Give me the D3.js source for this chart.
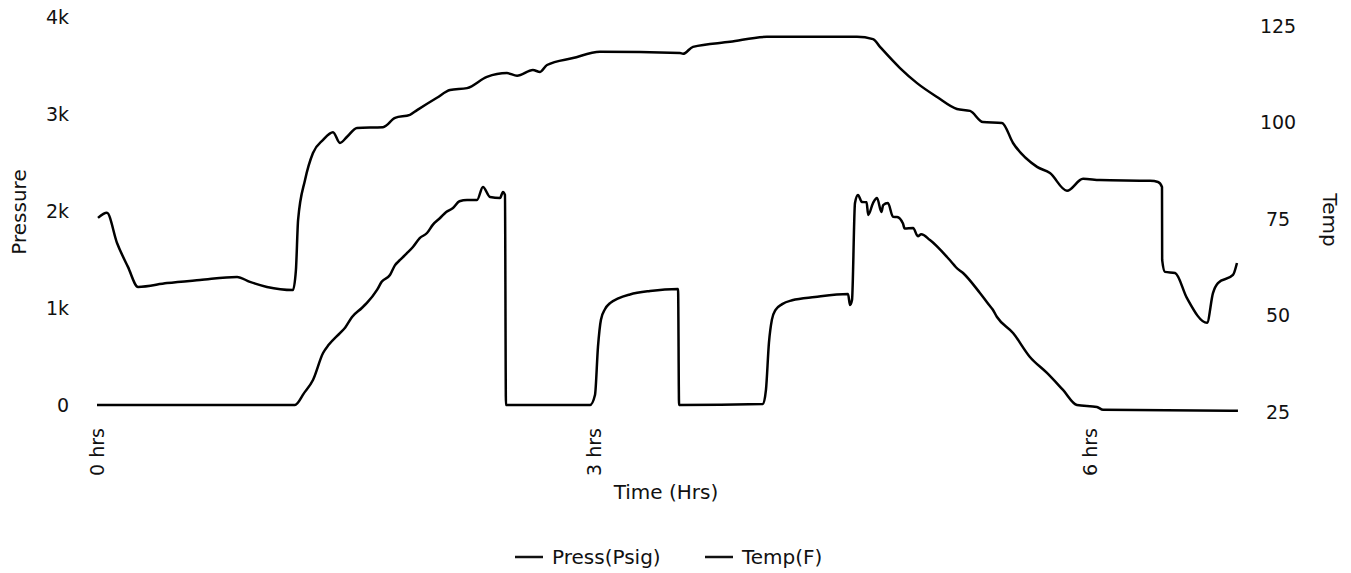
<!DOCTYPE html>
<html>
<head>
<meta charset="utf-8">
<script src="https://cdn.jsdelivr.net/npm/d3@7/dist/d3.min.js"></script>
<style>
  html, body { margin: 0; padding: 0; background: #fff; }
  svg { display: block; font-family: "DejaVu Sans", sans-serif; }
</style>
</head>
<body>
<svg id="chart" width="1351" height="573"></svg>
<script>
// ---- Data ----
const pressHours = [0, 1.196, 1.25, 1.305, 1.366, 1.40, 1.468, 1.50, 1.541, 1.60, 1.631, 1.692, 1.72, 1.770, 1.80, 1.831, 1.87, 1.909, 1.95, 1.994, 2.03, 2.073, 2.11, 2.151, 2.19, 2.236, 2.296, 2.332, 2.375, 2.435, 2.453, 2.465, 2.471, 2.979, 3.009, 3.027, 3.045, 3.07, 3.10, 3.15, 3.22, 3.341, 3.511, 3.517, 4.024, 4.042, 4.060, 4.078, 4.10, 4.14, 4.20, 4.338, 4.538, 4.550, 4.562, 4.580, 4.598, 4.622, 4.650, 4.66, 4.689, 4.713, 4.74, 4.75, 4.779, 4.81, 4.834, 4.87, 4.88, 4.931, 4.96, 4.98, 5.033, 5.136, 5.18, 5.19, 5.233, 5.335, 5.40, 5.41, 5.438, 5.535, 5.637, 5.740, 5.837, 5.921, 6.042, 6.079, 6.894];
const pressValues = [0, 0, 120, 258, 536, 620, 742, 800, 907, 1000, 1052, 1186, 1270, 1340, 1440, 1495, 1560, 1629, 1720, 1773, 1860, 1928, 1990, 2031, 2100, 2113, 2113, 2248, 2144, 2134, 2196, 2165, 0, 0, 103, 600, 880, 990, 1050, 1100, 1140, 1175, 1196, 0, 10, 155, 640, 880, 980, 1040, 1080, 1113, 1144, 1031, 1082, 2082, 2165, 2093, 2090, 1960, 2082, 2134, 1990, 2060, 2082, 1940, 1938, 1870, 1820, 1825, 1740, 1760, 1701, 1526, 1440, 1420, 1361, 1155, 1010, 990, 907, 742, 495, 330, 155, 0, -20, -50, -60];

const tempHours = [0.006, 0.060, 0.121, 0.187, 0.248, 0.423, 0.622, 0.846, 0.924, 1.027, 1.184, 1.202, 1.215, 1.257, 1.305, 1.366, 1.426, 1.468, 1.511, 1.571, 1.728, 1.801, 1.891, 1.934, 2.054, 2.133, 2.236, 2.356, 2.477, 2.538, 2.634, 2.677, 2.719, 2.876, 3.039, 3.523, 3.541, 3.601, 3.825, 4.048, 4.592, 4.689, 4.731, 4.852, 4.955, 5.076, 5.196, 5.275, 5.353, 5.468, 5.535, 5.680, 5.758, 5.861, 5.958, 6.060, 6.363, 6.411, 6.435, 6.436, 6.453, 6.514, 6.586, 6.707, 6.743, 6.773, 6.864, 6.888];
const tempValues = [75.3, 76.6, 68.8, 62.6, 57.4, 58.4, 59.2, 60.0, 58.7, 57.4, 56.6, 61.8, 74.7, 85.1, 92.1, 95.5, 97.5, 94.7, 96.3, 98.6, 98.8, 101.2, 102.0, 103.2, 106.4, 108.4, 108.9, 111.8, 112.8, 112.1, 113.6, 113.1, 114.9, 116.7, 118.3, 118.0, 117.8, 119.6, 120.9, 122.2, 122.2, 121.6, 119.6, 114.1, 110.2, 106.6, 103.5, 103.0, 100.1, 99.9, 94.7, 88.5, 86.9, 82.3, 85.4, 85.1, 84.9, 84.6, 83.3, 64.4, 61.3, 61.0, 54.5, 48.1, 55.8, 58.4, 60.5, 63.6];

const xTicks = [0, 3, 6];
const xTickLabels = ["0 hrs", "3 hrs", "6 hrs"];
const pressTicks = [0, 1000, 2000, 3000, 4000];
const pressTickLabels = ["0", "1k", "2k", "3k", "4k"];
const tempTicks = [25, 50, 75, 100, 125];
const tempTickLabels = ["25", "50", "75", "100", "125"];
const seriesNames = ["Press(Psig)", "Temp(F)"];

// ---- Scales ----
const svg = d3.select("#chart");
const x = d3.scaleLinear().domain([0, 6]).range([97, 1090]);
const yP = d3.scaleLinear().domain([0, 4000]).range([405, 17]);
const yT = d3.scaleLinear().domain([25, 125]).range([412, 26]);

const font = "DejaVu Sans, sans-serif";

// ---- Axes (labels only) ----
const axL = svg.append("g").attr("transform", "translate(69,0)")
  .call(d3.axisLeft(yP).tickValues(pressTicks).tickSize(0).tickPadding(0)
    .tickFormat((d, i) => pressTickLabels[i]));
const axR = svg.append("g").attr("transform", "translate(1278,0)")
  .call(d3.axisRight(yT).tickValues(tempTicks).tickSize(0).tickPadding(0)
    .tickFormat((d, i) => tempTickLabels[i]));
axR.selectAll("text").attr("text-anchor", "middle").attr("x", 0);
const axB = svg.append("g").attr("transform", "translate(0,428)")
  .call(d3.axisBottom(x).tickValues(xTicks).tickSize(0).tickPadding(0)
    .tickFormat((d, i) => xTickLabels[i]));
axB.selectAll("text")
  .attr("transform", "rotate(-90)")
  .attr("x", 0).attr("y", 0).attr("dy", "0.35em")
  .attr("text-anchor", "end");

[axL, axR, axB].forEach(a => {
  a.select(".domain").remove();
  a.attr("font-family", font).attr("font-size", 19);
  a.selectAll("text").attr("fill", "#111");
});

// ---- Lines ----
const lineP = d3.line().x((d, i) => x(pressHours[i])).y(d => yP(d)).curve(d3.curveMonotoneX);
const lineT = d3.line().x((d, i) => x(tempHours[i])).y(d => yT(d)).curve(d3.curveMonotoneX);

svg.append("path").datum(pressValues)
  .attr("d", lineP).attr("fill", "none").attr("stroke", "#000")
  .attr("stroke-width", 2.5).attr("stroke-linejoin", "round");
svg.append("path").datum(tempValues)
  .attr("d", lineT).attr("fill", "none").attr("stroke", "#000")
  .attr("stroke-width", 2.5).attr("stroke-linejoin", "round");

// ---- Titles ----
svg.append("text").attr("transform", "translate(26,212) rotate(-90)")
  .attr("text-anchor", "middle").attr("font-family", font).attr("font-size", 20)
  .attr("fill", "#111").text("Pressure");
svg.append("text").attr("transform", "translate(1323,220) rotate(90)")
  .attr("text-anchor", "middle").attr("font-family", font).attr("font-size", 20)
  .attr("fill", "#111").text("Temp");
svg.append("text").attr("x", 666).attr("y", 499)
  .attr("text-anchor", "middle").attr("font-family", font).attr("font-size", 20)
  .attr("fill", "#111").text("Time (Hrs)");

// ---- Legend ----
const legendX = [515, 705];
const lg = svg.append("g").selectAll("g").data(seriesNames).join("g")
  .attr("transform", (d, i) => `translate(${legendX[i]},557)`);
lg.append("line").attr("x1", 0).attr("x2", 28).attr("y1", 0).attr("y2", 0)
  .attr("stroke", "#111").attr("stroke-width", 2.5);
lg.append("text").attr("x", 37).attr("y", 0).attr("dy", "0.35em")
  .attr("font-family", font).attr("font-size", 20).attr("fill", "#111")
  .text(d => d);
</script>
</body>
</html>
